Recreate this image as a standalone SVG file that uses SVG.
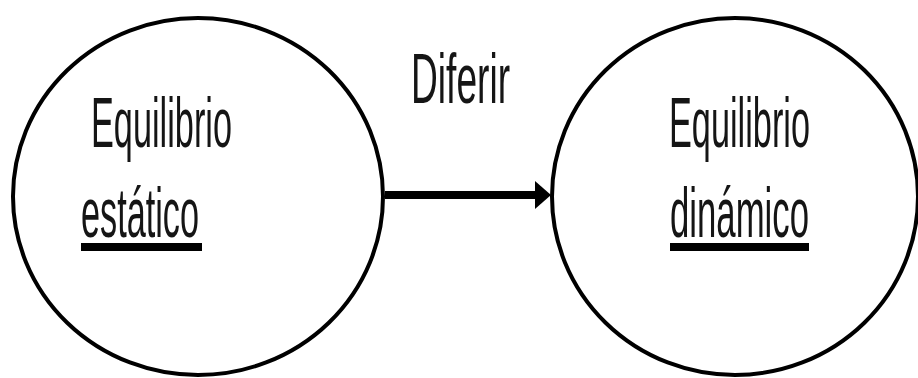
<svg xmlns="http://www.w3.org/2000/svg" width="918" height="378" viewBox="0 0 918 378">
  <style>
    .state { fill: none; stroke: #000; stroke-width: 4; }
    .label { font-family: "Liberation Sans", Arial, sans-serif; font-size: 70px; fill: #151515; }
    .uline { fill: #000; }
    .link { stroke: #000; stroke-width: 8; fill: none; }
  </style>
  <defs>
    <marker id="arrowhead" markerUnits="userSpaceOnUse" markerWidth="18" markerHeight="30" refX="2" refY="14" orient="auto">
      <polygon points="0,0 16,14 0,28" fill="#000"/>
    </marker>
  </defs>

  <rect width="918" height="378" fill="#fff"/>

  <!-- state: static equilibrium -->
  <g id="node-estatico">
    <ellipse class="state" cx="198" cy="196.5" rx="185" ry="178.5"/>
    <text class="label" x="91" y="147" textLength="141" lengthAdjust="spacingAndGlyphs">Equilibrio</text>
    <text class="label" x="81" y="237" textLength="118" lengthAdjust="spacingAndGlyphs">estático</text>
    <rect class="uline" x="81" y="243" width="121" height="8"/>
  </g>

  <!-- state: dynamic equilibrium -->
  <g id="node-dinamico">
    <ellipse class="state" cx="735" cy="196.5" rx="183" ry="178.5"/>
    <text class="label" x="669" y="147" textLength="141" lengthAdjust="spacingAndGlyphs">Equilibrio</text>
    <text class="label" x="670" y="237" textLength="139" lengthAdjust="spacingAndGlyphs">dinámico</text>
    <rect class="uline" x="670" y="243" width="139" height="8"/>
  </g>

  <!-- transition between the two states -->
  <g id="connectors">
    <line class="link" x1="385" y1="195" x2="537" y2="195" marker-end="url(#arrowhead)"/>
    <text class="label" x="411" y="103" textLength="99" lengthAdjust="spacingAndGlyphs">Diferir</text>
  </g>
</svg>
